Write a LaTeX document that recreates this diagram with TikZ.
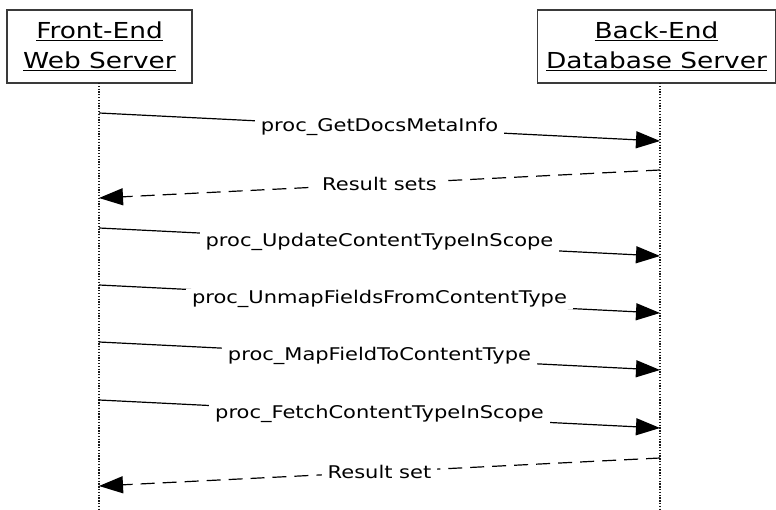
\documentclass[tikz,border=0pt]{standalone}
\usepackage{fontspec}
\setmainfont{DejaVu Sans}[FakeStretch=1.2]
\usetikzlibrary{arrows.meta}
\definecolor{boxline}{HTML}{3A3A3A}
\tikzset{
  actor/.style={draw=boxline, line width=1.3pt, fill=white, align=center, inner sep=0pt,
    minimum height=73pt, font=\fontsize{22}{30}\selectfont},
  life/.style={line width=1.2pt, dash pattern=on 1.3pt off 1.5pt, black!90},
  msg/.style={line width=1.2pt, -{Triangle[length=24pt,width=17pt]}},
  ret/.style={msg, dash pattern=on 14pt off 8pt},
  lbl/.style={fill=white, inner xsep=6pt, inner ysep=1pt, font=\fontsize{17.5}{20}\selectfont}
}
\begin{document}
\begin{tikzpicture}[x=1pt,y=-1pt]
\useasboundingbox (0,0) rectangle (776,510);
\node[actor, minimum width=185pt] (fe) at (99.5,46.5) {\underline{Front-End}\\\underline{Web Server}};
\node[actor, minimum width=238pt] (be) at (656.5,46.5) {\underline{Back-End}\\\underline{Database Server}};
\coordinate (ftop) at (99,83);
\coordinate (fbot) at (99,510);
\coordinate (btop) at (660,83);
\coordinate (bbot) at (660,510);
\draw[life] (ftop) -- (fbot);
\draw[life] (btop) -- (bbot);
% message end points
\coordinate (f1) at (99,113); \coordinate (b1) at (660,141);
\coordinate (b2) at (660,170); \coordinate (f2) at (99,198);
\coordinate (f3) at (99,228); \coordinate (b3) at (660,256);
\coordinate (f4) at (99,285); \coordinate (b4) at (660,313);
\coordinate (f5) at (99,342); \coordinate (b5) at (660,370);
\coordinate (f6) at (99,400); \coordinate (b6) at (660,428);
\coordinate (b7) at (660,458); \coordinate (f7) at (99,486);
\draw[msg] (f1) -- node[lbl] {proc\_GetDocsMetaInfo} (b1);
\draw[ret] (b2) -- node[lbl] {Result sets} (f2);
\draw[msg] (f3) -- node[lbl] {proc\_UpdateContentTypeInScope} (b3);
\draw[msg] (f4) -- node[lbl] {proc\_UnmapFieldsFromContentType} (b4);
\draw[msg] (f5) -- node[lbl] {proc\_MapFieldToContentType} (b5);
\draw[msg] (f6) -- node[lbl] {proc\_FetchContentTypeInScope} (b6);
\draw[ret] (b7) -- node[lbl] {Result set} (f7);
\end{tikzpicture}
\end{document}
